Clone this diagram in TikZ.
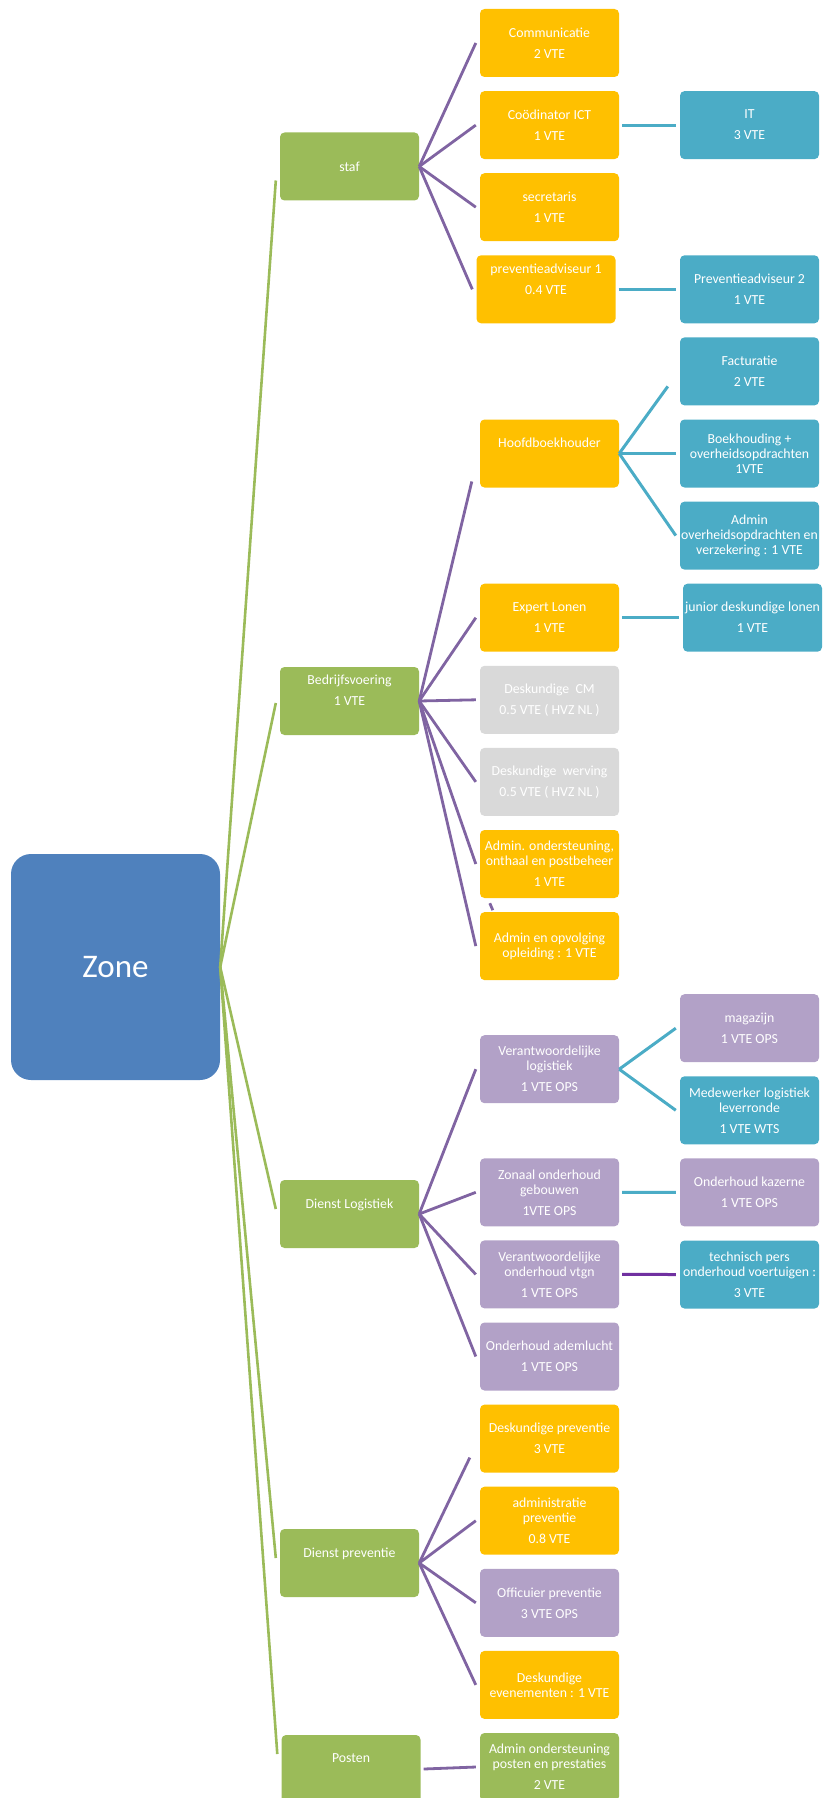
\documentclass[tikz,border=0pt]{standalone}
\usepackage{fontspec}
\setmainfont{Carlito}
\usepackage{xcolor}
\usepackage{tikz}
\usetikzlibrary{positioning}
\definecolor{zoneblue}{HTML}{4F81BD}
\definecolor{headgreen}{HTML}{9BBB59}
\definecolor{staffgold}{HTML}{FFC000}
\definecolor{subteal}{HTML}{4BACC6}
\definecolor{opslila}{HTML}{B2A1C7}
\definecolor{extgrey}{HTML}{D9D9D9}
\definecolor{linepurple}{HTML}{8064A2}
\definecolor{darkpurple}{HTML}{7030A0}
\tikzstyle{box} = [rectangle, rounded corners=4.5pt, minimum width=139pt, minimum height=68pt, inner sep=1pt, align=center, text=white, font=\fontsize{13.8}{15}\selectfont]
\tikzstyle{zonebox} = [rectangle, rounded corners=20pt, minimum width=209pt, minimum height=226pt, fill=zoneblue, text=white, font=\fontsize{33}{36}\selectfont]
\tikzstyle{headbox} = [box, fill=headgreen]
\tikzstyle{staffbox} = [box, fill=staffgold]
\tikzstyle{subbox} = [box, fill=subteal]
\tikzstyle{opsbox} = [box, fill=opslila]
\tikzstyle{extbox} = [box, fill=extgrey]
\tikzstyle{zoneline} = [line width=2.6pt, draw=headgreen]
\tikzstyle{staffline} = [line width=2.8pt, draw=linepurple]
\tikzstyle{subline} = [line width=3pt, draw=subteal]
\tikzstyle{darkline} = [line width=3pt, draw=darkpurple]

\begin{document}
\begin{tikzpicture}[x=1pt, y=-1pt, node distance=82.1pt]
\useasboundingbox (0,0) rectangle (823,1798);

\node (zone) [zonebox] at (115.5,967) {Zone};

\node (staf) [headbox] at (349.5,166.5) {staf};
\node (bedrijf) [headbox] at (349.5,701) {Bedrijfsvoering\\[6pt]1 VTE\\[6pt]~};
\node (dlog) [headbox] at (349.5,1214) {Dienst Logistiek\\[6pt]~};
\node (dprev) [headbox] at (349.5,1563) {Dienst preventie\\[6pt]~};
\node (posten) [headbox] at (351,1769) {Posten\\[6pt]~};

\node (comm) [staffbox] at (549.5,43) {Communicatie\\[6pt]2 VTE};
\node (coord) [staffbox, below of=comm] {Coödinator ICT\\[6pt]1 VTE};
\node (secr) [staffbox, below of=coord] {secretaris\\[6pt]1 VTE};
\node (prev1) [staffbox, below of=secr, xshift=-3.5pt] {preventieadviseur 1\\[6pt]0.4 VTE\\[6pt]~};
\node (hoofd) [staffbox, below of=prev1, xshift=3.5pt, yshift=-82.1pt] {Hoofdboekhouder\\[6pt]~};
\node (expert) [staffbox, below of=hoofd, yshift=-82.1pt] {Expert Lonen\\[6pt]1 VTE};
\node (cm) [extbox, below of=expert] {Deskundige\ \ CM\\[6pt]0.5 VTE ( HVZ NL )};
\node (werving) [extbox, below of=cm] {Deskundige\ \ werving\\[6pt]0.5 VTE ( HVZ NL )};
\node (admond) [staffbox, below of=werving] {Admin. ondersteuning,\\onthaal en postbeheer\\[6pt]1 VTE};
\node (admopv) [staffbox, below of=admond] {Admin en opvolging\\opleiding : 1 VTE};
\node (verlog) [opsbox, below of=admopv, yshift=-41pt] {Verantwoordelijke\\logistiek\\[6pt]1 VTE OPS};
\node (zonaal) [opsbox, below of=verlog, yshift=-41pt] {Zonaal onderhoud\\gebouwen\\[6pt]1VTE OPS};
\node (vtgn) [opsbox, below of=zonaal] {Verantwoordelijke\\onderhoud vtgn\\[6pt]1 VTE OPS};
\node (adem) [opsbox, below of=vtgn] {Onderhoud ademlucht\\[6pt]1 VTE OPS};
\node (deskprev) [staffbox, below of=adem] {Deskundige preventie\\[6pt]3 VTE};
\node (admprev) [staffbox, below of=deskprev] {administratie\\preventie\\[6pt]0.8 VTE};
\node (offic) [opsbox, below of=admprev] {Officuier preventie\\[6pt]3 VTE OPS};
\node (evenem) [staffbox, below of=offic] {Deskundige\\evenementen : 1 VTE};
\node (admposten) [headbox, below of=evenem] {Admin ondersteuning\\posten en prestaties\\[6pt]2 VTE};

\node (it) [subbox] at (749.5,125.1) {IT\\[6pt]3 VTE};
\node (prev2) [subbox, below of=it, yshift=-82.1pt] {Preventieadviseur 2\\[6pt]1 VTE};
\node (fact) [subbox, below of=prev2] {Facturatie\\[6pt]2 VTE};
\node (boek) [subbox, below of=fact] {Boekhouding +\\overheidsopdrachten\\1VTE};
\node (admoverh) [subbox, below of=boek] {Admin\\overheidsopdrachten en\\verzekering : 1 VTE};
\node (junior) [subbox, below of=admoverh, xshift=3pt] {junior deskundige lonen\\[6pt]1 VTE};
\node (magazijn) [opsbox, below of=junior, xshift=-3pt, yshift=-328.4pt] {magazijn\\[6pt]1 VTE OPS};
\node (medew) [subbox, below of=magazijn] {Medewerker logistiek\\leverronde\\[6pt]1 VTE WTS};
\node (kazerne) [opsbox, below of=medew] {Onderhoud kazerne\\[6pt]1 VTE OPS};
\node (techn) [subbox, below of=kazerne] {technisch pers\\onderhoud voertuigen :\\[6pt]3 VTE};

\draw [zoneline] (zone.east) -- ([xshift=-4pt,yshift=-14pt]staf.west);
\draw [zoneline] (zone.east) -- ([xshift=-4pt,yshift=-2pt]bedrijf.west);
\draw [zoneline] (zone.east) -- ([xshift=-4pt,yshift=5pt]dlog.west);
\draw [zoneline] (zone.east) -- ([xshift=-4pt,yshift=5pt]dprev.west);
\draw [zoneline] (zone.east) -- ([xshift=-4pt,yshift=15pt]posten.west);

\draw [staffline] (staf.east) -- ([xshift=-4pt]comm.west);
\draw [staffline] (staf.east) -- ([xshift=-4pt]coord.west);
\draw [staffline] (staf.east) -- ([xshift=-4pt]secr.west);
\draw [staffline] (staf.east) -- ([xshift=-4pt]prev1.west);
\draw [staffline] (bedrijf.east) -- ([xshift=-8pt,yshift=-28pt]hoofd.west);
\draw [staffline] (bedrijf.east) -- ([xshift=-4pt]expert.west);
\draw [staffline] (bedrijf.east) -- ([xshift=-4pt]cm.west);
\draw [staffline] (bedrijf.east) -- ([xshift=-4pt]werving.west);
\draw [staffline] (bedrijf.east) -- ([xshift=-4pt]admond.west);
\draw [staffline] (bedrijf.east) -- ([xshift=-4pt]admopv.west);
\draw [staffline] ([xshift=10pt,yshift=-5pt]admond.south west) -- ([xshift=13pt,yshift=-12pt]admond.south west);
\draw [staffline] (dlog.east) -- ([xshift=-4pt]verlog.west);
\draw [staffline] (dlog.east) -- ([xshift=-4pt]zonaal.west);
\draw [staffline] (dlog.east) -- ([xshift=-4pt]vtgn.west);
\draw [staffline] (dlog.east) -- ([xshift=-4pt]adem.west);
\draw [staffline] (dprev.east) -- ([xshift=-10pt,yshift=-19pt]deskprev.west);
\draw [staffline] (dprev.east) -- ([xshift=-4pt]admprev.west);
\draw [staffline] (dprev.east) -- ([xshift=-4pt]offic.west);
\draw [staffline] (dprev.east) -- ([xshift=-4pt]evenem.west);
\draw [staffline] ([xshift=3pt]posten.east) -- ([xshift=-4pt]admposten.west);

\draw [subline] ([xshift=3pt]coord.east) -- ([xshift=-4pt]it.west);
\draw [subline] ([xshift=3pt]prev1.east) -- ([xshift=-4pt]prev2.west);
\draw [subline] (hoofd.east) -- ([xshift=-12pt,yshift=-15pt]fact.west);
\draw [subline] (hoofd.east) -- ([xshift=-4pt]boek.west);
\draw [subline] (hoofd.east) -- ([xshift=-4pt]admoverh.west);
\draw [subline] ([xshift=3pt]expert.east) -- ([xshift=-4pt]junior.west);
\draw [subline] (verlog.east) -- ([xshift=-4pt]magazijn.west);
\draw [subline] (verlog.east) -- ([xshift=-4pt]medew.west);
\draw [subline] ([xshift=3pt]zonaal.east) -- ([xshift=-4pt]kazerne.west);
\draw [darkline] ([xshift=3pt]vtgn.east) -- ([xshift=-4pt]techn.west);

\end{tikzpicture}
\end{document}
